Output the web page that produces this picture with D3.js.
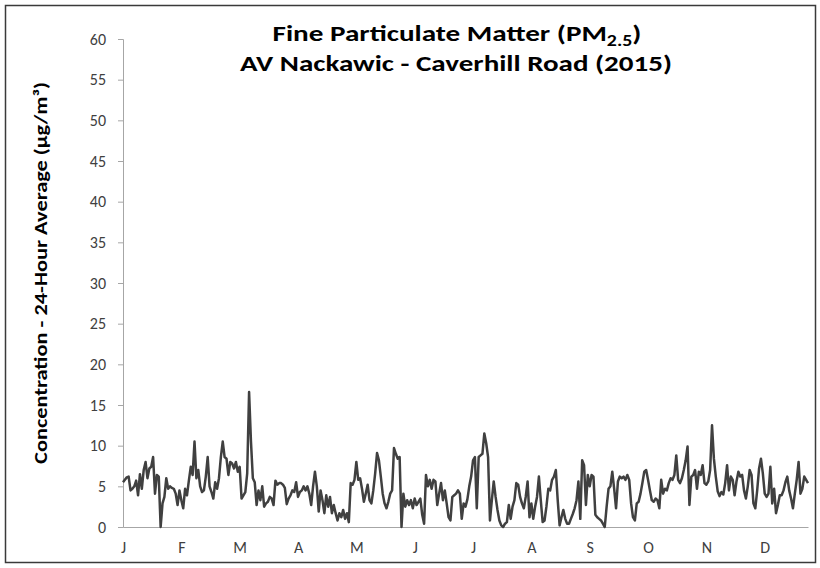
<!DOCTYPE html>
<html>
<head>
<meta charset="utf-8">
<script src="https://cdn.jsdelivr.net/npm/d3@7"></script>
<style>
  html, body { margin: 0; padding: 0; background: #fff; }
  svg text { font-family: Carlito, Lato, "Open Sans", sans-serif; }
</style>
</head>
<body>
<svg id="chart" width="820" height="568"></svg>
<script>
// Daily 24-hour average PM2.5 (µg/m³), 2015, by month
const jan = [5.5, 5.8, 6.1, 6.2, 4.5, 4.7, 5.0, 5.7, 3.9, 6.5, 4.7, 7.0, 8.0, 6.0, 7.2, 7.4, 8.6, 4.1, 6.4, 6.2, 0.0, 2.9, 3.7, 6.0, 4.7, 5.0, 4.8, 4.7, 4.1, 2.7, 4.5];
const feb = [3.3, 2.3, 4.7, 3.9, 5.7, 7.4, 6.4, 10.5, 6.0, 7.0, 5.0, 4.3, 4.5, 6.2, 8.6, 5.0, 4.3, 3.5, 5.5, 4.7, 6.0, 8.6, 10.5, 8.6, 8.4, 6.4, 8.0, 7.8];
const mar = [7.2, 8.0, 6.8, 7.4, 3.5, 3.9, 4.3, 6.6, 16.6, 10.5, 6.0, 5.5, 2.7, 4.5, 3.3, 5.0, 2.5, 2.9, 3.1, 3.7, 3.5, 2.7, 5.7, 5.2, 5.4, 5.4, 5.2, 4.8, 2.8, 3.5, 3.9];
const apr = [4.5, 4.3, 5.5, 3.7, 4.3, 4.5, 5.0, 4.5, 5.0, 4.1, 2.7, 5.0, 6.8, 5.0, 1.9, 4.5, 3.3, 1.7, 3.9, 2.5, 3.7, 1.7, 2.7, 1.7, 0.8, 1.7, 1.2, 2.1, 1.0, 1.7];
const may = [0.6, 5.4, 5.2, 5.8, 8.0, 5.8, 6.0, 4.7, 3.1, 4.1, 5.2, 3.3, 2.9, 4.5, 6.6, 9.1, 8.2, 6.2, 4.1, 2.9, 2.3, 3.1, 4.1, 4.5, 9.7, 9.0, 8.4, 8.6, 0.0, 4.1, 2.5];
const jun = [3.3, 2.7, 3.3, 2.3, 3.5, 2.7, 3.1, 3.5, 1.5, 0.4, 6.4, 5.0, 5.8, 4.7, 5.8, 5.6, 2.7, 4.1, 5.4, 3.3, 4.5, 2.9, 1.2, 0.8, 3.7, 3.9, 4.1, 4.5, 4.1, 1.0];
const jul = [2.9, 2.5, 3.4, 5.0, 6.2, 8.2, 8.6, 2.3, 8.6, 8.8, 9.0, 11.5, 10.3, 8.6, 0.8, 3.3, 5.6, 3.7, 2.1, 0.8, 0.2, 0.0, 0.4, 0.6, 2.7, 1.0, 2.5, 3.3, 5.4, 5.2, 3.7];
const aug = [2.9, 2.3, 3.7, 5.6, 1.2, 2.9, 1.0, 2.5, 3.7, 6.2, 3.3, 0.6, 0.8, 2.5, 4.7, 4.5, 5.8, 6.2, 7.0, 3.3, 0.2, 1.2, 2.1, 1.0, 0.4, 0.4, 1.0, 1.6, 2.3, 3.3, 5.6];
const sep = [1.0, 8.2, 7.6, 2.7, 6.4, 5.0, 6.4, 6.2, 1.5, 1.2, 1.0, 0.8, 0.4, 0.0, 2.5, 4.7, 5.0, 6.8, 4.7, 2.3, 5.6, 6.2, 6.0, 6.2, 5.8, 6.4, 5.8, 2.9, 1.2, 0.8];
const oct = [2.9, 3.1, 4.1, 5.4, 6.8, 7.0, 5.8, 4.5, 3.3, 3.1, 3.5, 3.3, 2.3, 5.8, 4.1, 4.7, 4.5, 5.4, 6.0, 5.8, 6.4, 8.8, 5.8, 5.4, 6.0, 7.0, 8.2, 9.9, 2.7, 6.2, 6.4];
const nov = [7.0, 4.7, 6.8, 6.4, 7.6, 5.4, 5.2, 5.6, 7.0, 12.5, 8.4, 6.2, 4.4, 3.8, 4.3, 4.0, 5.4, 7.6, 4.5, 6.2, 5.8, 3.9, 5.6, 6.8, 6.2, 6.4, 4.5, 3.5, 5.0, 7.0];
const dec = [6.4, 2.9, 2.3, 4.5, 7.2, 8.4, 6.6, 4.1, 3.7, 4.1, 7.4, 2.9, 4.7, 1.7, 2.7, 3.9, 3.9, 4.5, 5.5, 6.2, 4.5, 3.5, 2.3, 4.1, 5.8, 8.0, 4.1, 4.7, 6.2, 5.8, 5.4];

const monthLabels = ["J", "F", "M", "A", "M", "J", "J", "A", "S", "O", "N", "D"];
const yTicks = [0, 5, 10, 15, 20, 25, 30, 35, 40, 45, 50, 55, 60];
const titleMain = "Fine Particulate Matter (PM";
const titleSub = "2.5";
const titleLine2 = "AV Nackawic - Caverhill Road (2015)";
const yTitle = "Concentration - 24-Hour Average (µg/m³)";

const values = [].concat(jan, feb, mar, apr, may, jun, jul, aug, sep, oct, nov, dec);

const svg = d3.select("#chart");
const plotLeft = 123, plotRight = 808, plotTop = 39, plotBottom = 527;

// fit a text element horizontally (in its own coordinates) to a target width, keeping its centre
function fitWidth(sel, cx, cy, target) {
  const w = sel.node().getBBox().width;
  const s = target / w;
  sel.attr("transform", `translate(${cx},${cy}) scale(${s},1)`);
}

// outer frame
svg.append("rect")
  .attr("x", 5.5).attr("y", 5.5)
  .attr("width", 810).attr("height", 557)
  .attr("fill", "#fff")
  .attr("stroke", "#3a3a3a")
  .attr("stroke-width", 1.5);

const x = d3.scaleLinear().domain([0, values.length - 1]).range([plotLeft, plotRight]);
const y = d3.scaleLinear().domain([0, 60]).range([plotBottom, plotTop]);

// Y axis
const yAxis = svg.append("g")
  .attr("transform", `translate(${plotLeft},0)`)
  .call(d3.axisLeft(y).tickValues(yTicks).tickSize(5).tickPadding(12).tickFormat(d3.format("d")));
yAxis.select(".domain").attr("stroke", "#a6a6a6").attr("stroke-width", 1);
yAxis.selectAll(".tick line").attr("stroke", "#a6a6a6");
yAxis.selectAll(".tick text")
  .attr("fill", "#404040")
  .style("font-size", "16px");

// X axis (category labels every 31 days)
const labelDays = d3.range(0, values.length, 31);
const xAxis = svg.append("g")
  .attr("transform", `translate(0,${plotBottom})`)
  .call(d3.axisBottom(x).tickValues(labelDays).tickSize(0).tickPadding(15)
    .tickFormat((d, i) => monthLabels[i]));
xAxis.select(".domain").attr("stroke", "#a6a6a6").attr("stroke-width", 1);
xAxis.selectAll(".tick text")
  .attr("fill", "#404040")
  .style("font-size", "16px");

// Line
const line = d3.line()
  .x((d, i) => x(i))
  .y(d => y(d));
svg.append("path")
  .datum(values)
  .attr("fill", "none")
  .attr("stroke", "#404040")
  .attr("stroke-width", 2.5)
  .attr("stroke-linejoin", "round")
  .attr("d", line);

// Title
const t1 = svg.append("text")
  .attr("text-anchor", "middle")
  .style("font-size", "22px")
  .style("font-weight", "bold")
  .attr("fill", "#000");
t1.append("tspan").text(titleMain);
t1.append("tspan").attr("dy", 5).style("font-size", "15px").text(titleSub);
t1.append("tspan").attr("dy", -5).text(")");
fitWidth(t1, 457, 41, 369);

const t2 = svg.append("text")
  .attr("text-anchor", "middle")
  .style("font-size", "22px")
  .style("font-weight", "bold")
  .attr("fill", "#000")
  .text(titleLine2);
fitWidth(t2, 456, 71, 432);

// Y title (rotated)
const yt = svg.append("text")
  .attr("text-anchor", "middle")
  .style("font-size", "18px")
  .style("font-weight", "bold")
  .attr("fill", "#000")
  .text(yTitle);
const ytw = yt.node().getBBox().width;
yt.attr("transform", `translate(47,273) rotate(-90) scale(${382 / ytw},1)`);
</script>
</body>
</html>
